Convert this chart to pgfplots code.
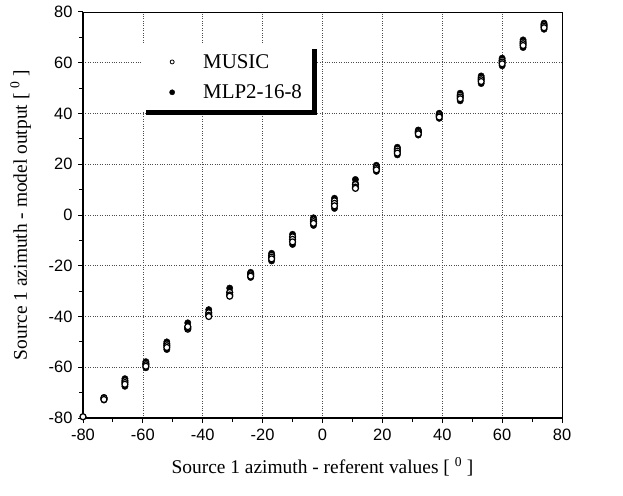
\documentclass[border=0pt]{standalone}
\usepackage{fontspec}
\setmainfont{Liberation Serif}
\newfontfamily\arialf{Liberation Sans}
\usepackage{pgfplots}
\pgfplotsset{compat=1.18}
\usetikzlibrary{shadows}

\begin{document}
\begin{tikzpicture}
\begin{axis}[name=ax, scale only axis, width=479bp, height=406bp,
  xmin=-80, xmax=80, ymin=-80, ymax=80,
  xtick={-80,-60,...,80}, ytick={-80,-60,...,80},
  minor tick num=1,
  tick align=outside, tick pos=left,
  major tick length=5bp, minor tick length=4bp,
  tick style={black, line width=1bp},
  grid=major, major grid style={black!70, dotted, line width=0.6bp},
  axis line style={line width=0.8bp},
  /pgf/number format/assume math mode=true,
  tick label style={font=\arialf\fontsize{16.5}{17}\selectfont},
  xticklabel style={yshift=-2bp},
  yticklabel style={xshift=-2bp},
  xlabel={Source 1 azimuth - referent values [ \textsuperscript{0} ]},
  ylabel={Source 1 azimuth - model output [ \textsuperscript{0} ]},
  label style={font=\fontsize{19.5}{20}\selectfont},
  xlabel style={at={(axis description cs:0.5,-0.12)}, anchor=center},
  ylabel style={at={(axis description cs:-0.13,0.5)}, anchor=center},
  clip=false,
  legend cell align=left,
  legend image code/.code={%
    \pgfpathrectangle{\pgfpoint{0bp}{-1bp}}{\pgfpoint{36bp}{2bp}}\pgfusepath{discard}%
    \draw[#1] plot coordinates {(23bp,0bp)};},
  legend style={at={(axis description cs:0.121,0.921)}, anchor=north west,
    draw=none, fill=white,
    drop shadow={shadow xshift=5bp, shadow yshift=-5bp, fill=black, opacity=1},
    font=\fontsize{21}{21}\selectfont, inner xsep=8bp, inner ysep=8bp,
    row sep=11bp, /tikz/every odd column/.append style={column sep=16bp}},
]
\addlegendimage{only marks, mark=o, mark size=2bp, mark options={line width=0.8bp, black}}
\addlegendentry{MUSIC}
\addlegendimage{only marks, mark=*, mark size=2.6bp, black}
\addlegendentry{MLP2-16-8}

% MLP2-16-8 (filled)
\addplot[only marks, mark=*, mark size=3.2bp, black, forget plot] coordinates {
(-80,-79.5) (-73,-71.9) (-73,-72.9) (-66,-64.5) (-66,-67.5) (-59,-57.8) (-59,-60.2)
(-52,-50) (-52,-53) (-45,-42.5) (-45,-44) (-38,-37.3) (-38,-39) (-31,-28.8) (-31,-30.5)
(-24,-22.6) (-24,-24.6) (-17,-15.1) (-17,-18.1) (-10,-7.6) (-10,-11.6) (-3,-1.1) (-3,-4.1)
(4,6.6) (4,2.6) (11,14) (11,12.5) (18,19.6) (18,17.2) (25,26.7) (25,23.7) (32,33.5) (32,31.5)
(39,40.1) (39,38.1) (46,48) (46,45) (53,54.8) (53,51.8) (60,61.8) (60,58.8) (67,69) (67,66)
(74,75.6) (74,73.2)};

% MUSIC (open)
\addplot[only marks, mark=*, mark size=3bp, forget plot,
  mark options={draw=black, fill=white, line width=1.2bp}] coordinates {
(-80,-79.5) (-73,-72.4) (-73,-72.1) (-73,-72.7) (-66,-65.3) (-66,-66) (-66,-66.7)
(-59,-58.4) (-59,-59) (-59,-59.6) (-52,-50.8) (-52,-51.5) (-52,-52.2) (-45,-45) (-45,-44.5)
(-45,-44) (-38,-38.5) (-38,-39.5) (-38,-40) (-31,-30.5) (-31,-31.5) (-31,-32) (-24,-23.1)
(-24,-23.6) (-24,-24.1) (-17,-15.9) (-17,-16.6) (-17,-17.3) (-10,-8.6) (-10,-9.6) (-10,-10.6)
(-3,-1.9) (-3,-2.6) (-3,-3.3) (4,5.6) (4,4.6) (4,3.6) (11,12) (11,11) (11,10.5)
(18,19) (18,18.4) (18,17.8) (25,26) (25,25.2) (25,24.4) (32,33) (32,32.5) (32,32)
(39,39.6) (39,39.1) (39,38.6) (46,47.2) (46,46.5) (46,45.8) (53,54) (53,53.3) (53,52.6)
(60,61) (60,60.3) (60,59.6) (67,68.2) (67,67.5) (67,66.8) (74,75) (74,74.4) (74,73.8)};

\draw[line width=2bp] (rel axis cs:0,1) -- (rel axis cs:0,0) -- (rel axis cs:1,0);
\end{axis}
\path (ax.south west) ++(-83bp,-77bp) rectangle ([xshift=61bp,yshift=12bp]ax.north east);
\end{tikzpicture}
\end{document}
